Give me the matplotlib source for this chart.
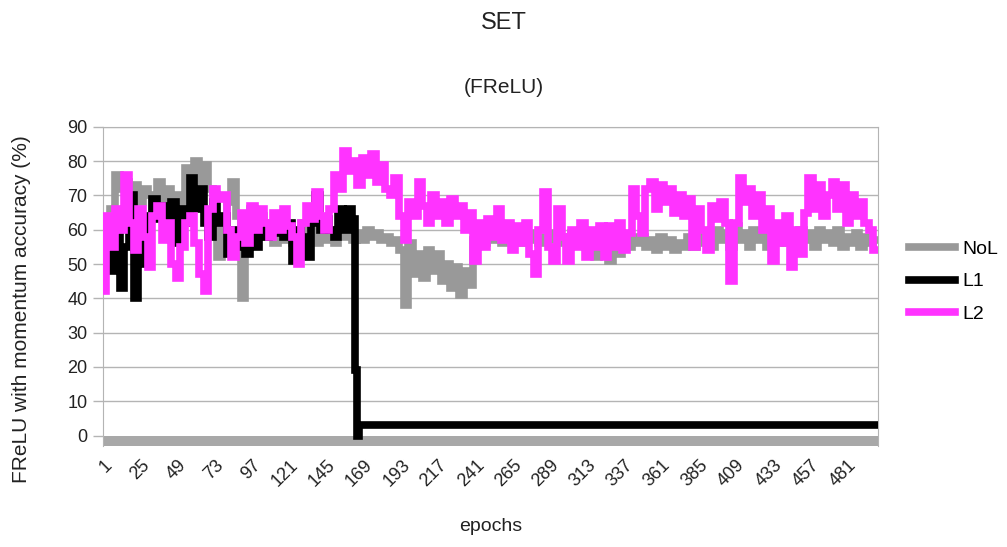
import matplotlib.pyplot as plt
import numpy as np

plt.switch_backend('Agg')
plt.rcParams['font.family'] = ['Liberation Sans', 'DejaVu Sans']

# epochs sampled every 3
epochs = np.arange(1, 500, 3)

nol = [50, 60, 66, 76, 72, 74, 70, 73, 68, 72, 70, 66, 74, 68, 72, 66, 70, 67, 78, 72,
       80, 74, 79, 72, 62, 52, 60, 68, 74, 64, 40, 62, 66, 60, 64, 58, 62, 56, 61, 57,
       60, 56, 58, 62, 57, 60, 56, 59, 57, 60, 56, 59, 58, 60, 57, 59, 57, 60, 58, 59,
       57, 58, 56, 57, 54, 38, 56, 47, 53, 46, 54, 48, 53, 45, 50, 43, 49, 41, 48, 44,
       57, 58, 56, 59, 57, 60, 56, 58, 57, 59, 56, 58, 57, 59, 56, 58, 57, 59, 56, 58,
       57, 59, 56, 58, 57, 55, 52, 55, 53, 51, 54, 53, 56, 55, 58, 56, 58, 55, 57, 54,
       58, 55, 57, 54, 56, 55, 58, 55, 60, 56, 58, 55, 60, 57, 59, 55, 61, 57, 59, 55,
       60, 57, 59, 55, 58, 56, 60, 56, 58, 55, 60, 57, 59, 55, 60, 57, 59, 56, 60, 55,
       58, 56, 59, 55, 58, 56, 57]

l2 = [42, 64, 55, 66, 60, 76, 62, 54, 66, 58, 49, 64, 67, 57, 62, 50, 46, 55, 62, 64,
      56, 47, 42, 66, 72, 69, 70, 60, 52, 58, 65, 56, 67, 60, 66, 62, 58, 65, 60, 66,
      61, 58, 50, 62, 67, 63, 71, 64, 60, 66, 76, 72, 83, 77, 80, 73, 81, 76, 82, 74,
      79, 72, 70, 75, 64, 57, 68, 64, 74, 67, 62, 70, 64, 68, 62, 69, 64, 67, 60, 65,
      51, 62, 55, 63, 58, 66, 57, 62, 54, 61, 56, 62, 53, 47, 60, 71, 55, 51, 66, 58,
      51, 60, 55, 62, 52, 60, 55, 61, 52, 61, 55, 62, 54, 59, 72, 64, 59, 72, 74, 66,
      73, 68, 72, 65, 70, 64, 69, 55, 66, 60, 54, 67, 63, 68, 62, 45, 62, 75, 68, 72,
      64, 70, 60, 66, 51, 62, 56, 64, 49, 60, 53, 65, 75, 66, 73, 64, 70, 74, 66, 73,
      62, 70, 64, 68, 62, 60, 54]

# L1 collapses around epoch 164 and stays flat afterwards
l1_epochs = list(range(1, 164, 3)) + [164, 165, 167, 500]
l1 = [50, 56, 48, 58, 43, 55, 70, 40, 58, 50, 64, 69, 63, 67, 58, 68, 56, 66, 62, 75,
      66, 72, 62, 58, 68, 62, 64, 53, 60, 55, 58, 53, 59, 55, 61, 58, 61, 59, 60, 58,
      62, 51, 60, 58, 52, 62, 70, 60, 63, 60, 58, 66, 60, 66, 63,
      19, 0, 3, 3]

xticks = list(range(1, 500, 24))

fig = plt.figure(figsize=(10.07, 5.47), dpi=100)
ax = fig.add_axes([0.102, 0.185, 0.770, 0.583])

ax.axhspan(-3, 0, color='#a8a8a8', lw=0, zorder=1)
for v in range(10, 91, 10):
    ax.axhline(v, color='#b4b4b4', lw=1, zorder=0)

lw = 5.5
ax.plot(epochs, nol, color='#999999', lw=lw, label='NoL', zorder=2,
        drawstyle='steps-mid', solid_joinstyle='miter')
ax.plot(l1_epochs, l1, color='black', lw=lw, label='L1', zorder=3,
        drawstyle='steps-mid', solid_joinstyle='miter')
ax.plot(epochs, l2, color='#ff33ff', lw=lw, label='L2', zorder=4,
        drawstyle='steps-mid', solid_joinstyle='miter')

ax.set_xlim(0.5, 500.5)
ax.set_ylim(-3, 90)
ax.set_yticks(range(0, 91, 10))
ax.set_xticks(xticks)
ax.set_xticklabels([str(t) for t in xticks], rotation=45, ha='right', va='top',
                   rotation_mode='anchor')
ax.tick_params(axis='x', length=0, pad=8, labelsize=13, colors='#222222')
ax.tick_params(axis='y', length=7, width=1, labelsize=13, pad=4, colors='#222222')
ax.tick_params(axis='y', color='#b4b4b4')

for s in ['left', 'right', 'top']:
    ax.spines[s].set_color('#b4b4b4')
ax.spines['bottom'].set_visible(False)

ax.set_ylabel('FReLU with momentum accuracy (%)', fontsize=15, color='#222222')
ax.yaxis.set_label_coords(-0.093, 0.43)
ax.set_xlabel('epochs', fontsize=14, color='#222222', labelpad=20)

fig.text(0.5, 0.958, 'SET', ha='center', va='center', fontsize=17, color='#222222')
fig.text(0.5, 0.84, '(FReLU)', ha='center', va='center', fontsize=15, color='#222222')

fig.legend(loc='upper left', bbox_to_anchor=(0.885, 0.592), frameon=False,
           fontsize=14, handlelength=2.4, handletextpad=0.35, labelspacing=0.75)

fig.savefig('out.png', dpi=100)
plt.close(fig)
